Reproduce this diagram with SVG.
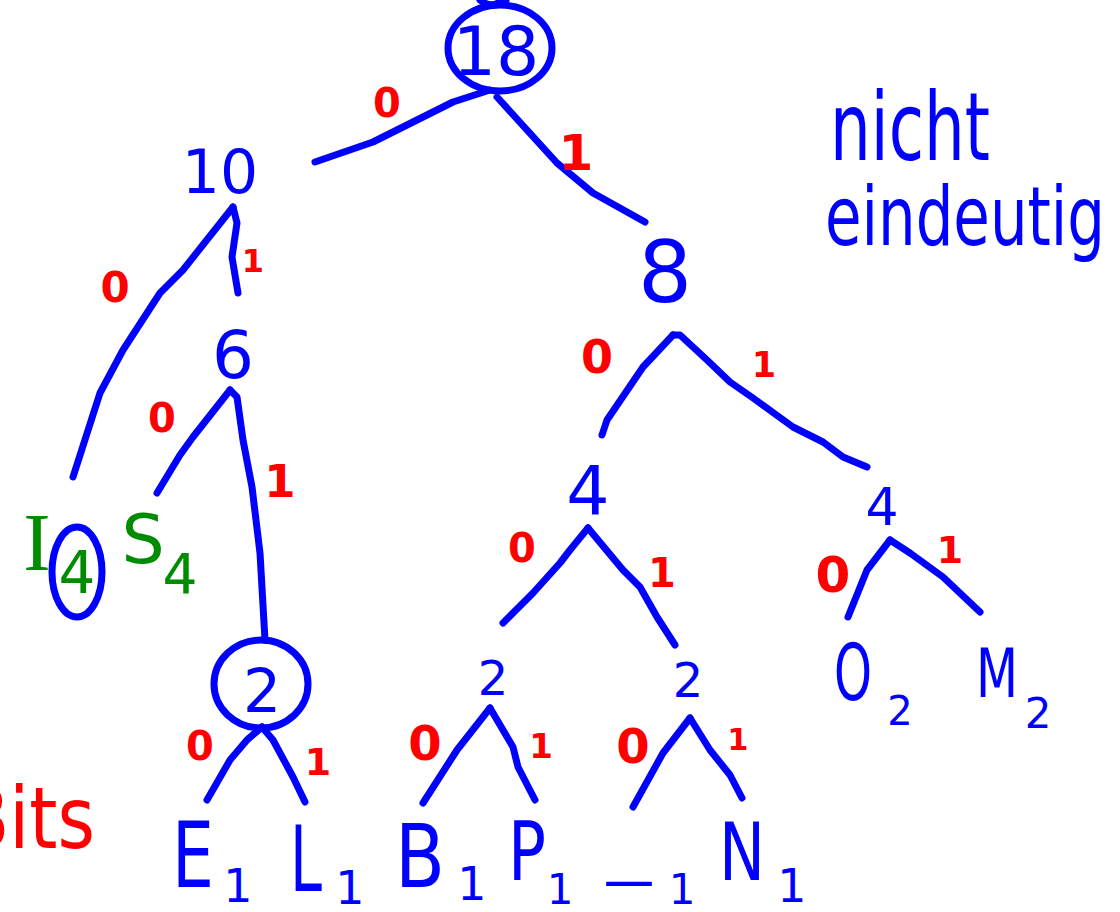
<svg xmlns="http://www.w3.org/2000/svg" width="1120" height="912" viewBox="0 0 1120 912">
<style>
.b{fill:#0000ff;font-family:"DejaVu Sans","Liberation Sans",sans-serif;text-anchor:middle}
.g{fill:#008c00;font-family:"DejaVu Sans","Liberation Sans",sans-serif;text-anchor:middle}
.r{fill:#ff0000;font-family:"DejaVu Sans","Liberation Sans",sans-serif;text-anchor:middle;font-weight:bold}
.e{fill:none;stroke:#0000ff;stroke-width:7;stroke-linecap:round;stroke-linejoin:round}
.ring{fill:none;stroke:#0000ff;stroke-width:7}
</style>
<rect width="1120" height="912" fill="#ffffff"/>
<g id="connectors">
<path class="e" d="M480 0 Q490 8 498 3 L506 0"/>
<path class="e" d="M490 90 L453 102 L423 117 L373 142 L315 162"/>
<path class="e" d="M497 97 L557 163 L593 193 L645 222"/>
<path class="e" d="M233 207 L183 270 L160 293 L123 350 L100 393 L73 477"/>
<path class="e" d="M233 207 L237 223 L232 257 L238 293"/>
<path class="e" d="M230 390 L193 437 L180 455 L157 493"/>
<path class="e" d="M230 390 L237 397 L243 440 L252 487 L260 553 L265 640"/>
<path class="e" d="M262 727 L247 740 L230 760 L207 800"/>
<path class="e" d="M262 727 L273 740 L293 777 L305 802"/>
<path class="e" d="M673 335 L680 335 L707 360 L730 382 L753 398 L793 427 L823 442 L843 457 L867 467"/>
<path class="e" d="M673 335 L643 367 L607 420 L602 435"/>
<path class="e" d="M588 528 L570 550 L560 563 L533 593 L503 623"/>
<path class="e" d="M588 528 L623 570 L640 587 L657 617 L675 645"/>
<path class="e" d="M490 708 L457 750 L423 803"/>
<path class="e" d="M490 708 L513 747 L518 767 L535 800"/>
<path class="e" d="M690 718 L663 753 L633 807"/>
<path class="e" d="M690 718 L710 750 L730 775 L742 798"/>
<path class="e" d="M890 540 L867 570 L848 617"/>
<path class="e" d="M890 540 L910 553 L943 577 L980 612"/>
</g>
<g id="edge-labels">
<text class="r" x="387" y="117" font-size="40">0</text>
<text class="r" x="576" y="170" font-size="50">1</text>
<text class="r" x="115" y="302" font-size="42">0</text>
<text class="r" x="253" y="272" font-size="32">1</text>
<text class="r" x="162" y="432" font-size="40">0</text>
<text class="r" x="280" y="497" font-size="45">1</text>
<text class="r" x="597" y="373" font-size="46">0</text>
<text class="r" x="764" y="377" font-size="35">1</text>
<text class="r" x="522" y="562" font-size="40">0</text>
<text class="r" x="662" y="587" font-size="40">1</text>
<text class="r" x="833" y="592" font-size="50">0</text>
<text class="r" x="950" y="563" font-size="38">1</text>
<text class="r" x="200" y="760" font-size="40">0</text>
<text class="r" x="318" y="775" font-size="38">1</text>
<text class="r" x="425" y="760" font-size="48">0</text>
<text class="r" x="541" y="758" font-size="34">1</text>
<text class="r" x="633" y="763" font-size="48">0</text>
<text class="r" x="738" y="750" font-size="30">1</text>
</g>
<g id="root">
<ellipse class="ring" cx="500" cy="48" rx="52" ry="43"/>
<text class="b" x="496" y="75" font-size="68">18</text>
</g>
<g id="n10"><text class="b" x="220" y="193" font-size="60">10</text></g>
<g id="n8"><text class="b" x="665" y="302" font-size="85">8</text></g>
<g id="n6"><text class="b" x="233" y="378" font-size="66">6</text></g>
<g id="nI">
<text class="g" x="37" y="570" font-size="82" style="font-family:'Liberation Serif',serif">I</text>
<ellipse cx="77" cy="572" rx="25" ry="45" fill="none" stroke="#0000ff" stroke-width="7"/>
<text class="g" x="77" y="593" font-size="58">4</text>
</g>
<g id="nS">
<text class="g" x="143" y="563" font-size="68">S</text>
<text class="g" x="180" y="593" font-size="55">4</text>
</g>
<g id="n2c">
<ellipse class="ring" cx="261" cy="684" rx="47" ry="44"/>
<text class="b" x="262" y="712" font-size="60">2</text>
</g>
<g id="n4a"><text class="b" x="588" y="515" font-size="68">4</text></g>
<g id="n4b"><text class="b" x="882" y="525" font-size="52">4</text></g>
<g id="n2a"><text class="b" x="493" y="695" font-size="48">2</text></g>
<g id="n2b"><text class="b" x="688" y="697" font-size="48">2</text></g>
<g id="nE">
<text class="b" x="193" y="887" font-size="90" textLength="42" lengthAdjust="spacingAndGlyphs">E</text>
<text class="b" x="238" y="902" font-size="46">1</text>
</g>
<g id="nL">
<text class="b" x="306" y="891" font-size="90" textLength="32" lengthAdjust="spacingAndGlyphs">L</text>
<text class="b" x="350" y="904" font-size="46">1</text>
</g>
<g id="nB">
<text class="b" x="420" y="887" font-size="88" textLength="50" lengthAdjust="spacingAndGlyphs">B</text>
<text class="b" x="472" y="900" font-size="46">1</text>
</g>
<g id="nP">
<text class="b" x="527" y="880" font-size="82" textLength="38" lengthAdjust="spacingAndGlyphs">P</text>
<text class="b" x="560" y="904" font-size="42">1</text>
</g>
<g id="nSpace">
<text class="b" x="629" y="872" font-size="60" textLength="44" lengthAdjust="spacingAndGlyphs">_</text>
<text class="b" x="682" y="904" font-size="42">1</text>
</g>
<g id="nN">
<text class="b" x="742" y="880" font-size="80" textLength="46" lengthAdjust="spacingAndGlyphs">N</text>
<text class="b" x="792" y="902" font-size="46">1</text>
</g>
<g id="nO">
<text class="b" x="853" y="700" font-size="78" textLength="38" lengthAdjust="spacingAndGlyphs">O</text>
<text class="b" x="900" y="725" font-size="40">2</text>
</g>
<g id="nM">
<text class="b" x="997" y="697" font-size="68" textLength="42" lengthAdjust="spacingAndGlyphs">M</text>
<text class="b" x="1038" y="728" font-size="42">2</text>
</g>
<g id="notes">
<text class="r" x="-40" y="848" font-size="85" textLength="135" lengthAdjust="spacingAndGlyphs" style="text-anchor:start;font-weight:normal">Bits</text>
<text class="b" x="830" y="160" font-size="95" textLength="160" lengthAdjust="spacingAndGlyphs" style="text-anchor:start">nicht</text>
<text class="b" x="825" y="245" font-size="82" textLength="280" lengthAdjust="spacingAndGlyphs" style="text-anchor:start">eindeutig</text>
</g>
</svg>
